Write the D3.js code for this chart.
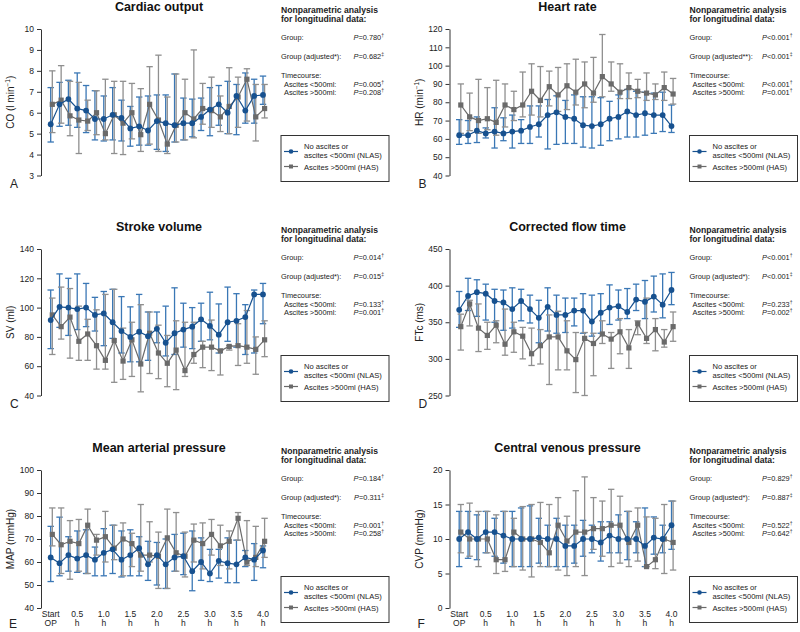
<!DOCTYPE html>
<html><head><meta charset="utf-8">
<script src="https://cdn.jsdelivr.net/npm/d3@7"></script>
<style>
body{margin:0;background:#fff}
svg{display:block}
text{font-family:"Liberation Sans",Arial,Helvetica,sans-serif;fill:#222}
</style>
</head><body>
<svg id="chart" width="800" height="632"></svg>
<script>
// ---------- categories ----------
const minutes = [0,10,20,30,40,50,60,70,80,90,100,110,120,130,140,150,160,170,180,190,200,210,220,230,240];
const tickMinutes = [0,30,60,90,120,150,180,210,240];
const tickLine1 = ["Start","0.5","1.0","1.5","2.0","2.5","3.0","3.5","4.0"];
const tickLine2 = ["OP","h","h","h","h","h","h","h","h"];
const seriesNames = ["No ascites or", "ascites <500ml (NLAS)", "Ascites >500ml (HAS)"];

// ---------- A: Cardiac output ----------
const coNlasMean = [5.45,6.4,6.65,6.2,6.1,5.7,5.7,5.9,5.75,5.25,5.35,5.15,5.6,5.5,5.4,5.5,5.5,5.8,6.15,6.4,6.0,6.8,6.1,6.8,6.85];
const coNlasLo   = [4.6,5.35,5.4,5.3,5.05,4.7,4.65,4.7,4.65,4.4,4.45,4.45,4.25,4.15,4.6,4.7,4.85,5.15,4.9,5.4,5.0,4.95,5.5,5.5,6.4];
const coNlasHi   = [7.2,7.45,7.55,7.9,7.3,7.05,6.8,7.2,6.6,6.3,6.75,6.8,6.85,6.85,7.85,6.7,6.65,6.7,7.2,7.3,7.5,7.35,7.9,7.6,7.75];
const coHasMean  = [6.4,6.6,5.85,5.65,5.6,6.0,5.0,5.9,5.5,6.0,4.95,6.4,5.65,4.5,5.4,6.0,5.7,6.2,6.1,5.8,6.3,6.75,7.6,5.8,6.2];
const coHasLo    = [5.05,5.5,4.9,4.05,5.15,4.95,4.7,4.05,4.0,4.75,4.15,4.5,4.15,4.05,4.6,4.7,4.8,5.45,5.3,5.1,5.0,5.3,5.6,4.65,5.75];
const coHasHi    = [8.0,8.25,7.5,7.45,6.6,7.05,7.6,7.5,7.5,7.4,7.15,8.2,8.75,6.75,7.85,7.6,9.0,7.4,7.7,6.8,8.15,7.7,8.1,7.35,7.35];

// ---------- B: Heart rate ----------
const hrNlasMean = [62,62,64.5,63,64,63,64,64.5,66.5,68,73,74.5,72,71,67.5,67,68,71,72,75,73,74,73,73,67];
const hrNlasLo   = [57,57.5,58,60.5,55,59,55,57.5,57.5,61,54.5,57,57.5,57.5,55.5,55,56.5,59,60,61,61,62,63,64,63.5];
const hrNlasHi   = [70.5,70,72,66,77,71.5,73,70.5,78,78,81.5,83.5,81,84,83,83,82.5,80.5,84,87,86,85.5,85,85.5,78.5];
const hrHasMean  = [78.5,72,70,71,69,78.5,76,78.5,86,81,88.5,84,89,85.5,90,85,94,90,85.5,88,86,85,84,88,84.5];
const hrHasLo    = [63,64.5,63,65,62,66.5,70,72,73,72,78,75,76,78.5,77,80,83,86,82,82,82.5,81,81.5,81,79];
const hrHasHi    = [90,85,92.5,88,92,90,86,96.5,101,99.5,97,99,101,103.5,102,104.5,117,102,101,96,92.5,96,90,96.5,93];

// ---------- C: Stroke volume ----------
const svNlasMean = [91.5,100.5,100,99,100,95,96,90,84,80,83.5,80.5,85.5,76,82.5,85,87,92,87.5,81.5,90,91,93.5,109,109];
const svNlasLo   = [72,86.5,81,85,87,84,74,79,69,63,63,64,76,67,68,73,72,77,78,69,77,73,68,69,89];
const svNlasHi   = [112,123,120,123,116.5,107,111,112.5,107.5,100.5,109,97,97,101,113.5,103,100,103,110.5,102.5,114,109.5,102,112,116.5];
const svHasMean  = [95,87,93.5,77,82,74,64,77.5,63.5,78,61.5,82.5,69,62,71,57,68,73,73,70.5,73.5,74,73,71.5,78];
const svHasLo    = [68,78.5,65.5,64,64,58,58,49,51,53,42.5,55,51.5,46,44,53,62,59,57,54,71,60.5,62,54.5,66.5];
const svHasHi    = [106.5,114,113,101,92,98.5,109,112.5,86,90,102,97,88,81,91,90,90,77,91.5,71,74,89,98,80,91];

// ---------- D: Corrected flow time ----------
const ftcNlasMean = [367,386,391,389,379,377,368,379,368,356,371,360,360,366,366,351,363,370,372,364,381,378,385,374,394];
const ftcNlasLo   = [343,366,358,353,350,339,342,352,349,322,338,335,336,345,335,331,335,347,353,355,366,355,364,356,374];
const ftcNlasHi   = [392,410,408,402,395,394,397,395,387,380,397,387,383,383,389,387,389,401,394,396,402,407,413,416,418];
const ftcHasMean  = [344,375,342,332,346,320,337,331,307,318,330,330,311,299,328,321,334,327,337,315,348,328,340,323,344];
const ftcHasLo    = [312,345,310,313,322,305,309,300,291,293,265,285,285,254,250,277,321,287,307,287,333,321,311,316,324];
const ftcHasHi    = [361,380,375,350,352,368,350,343,342,340,360,365,352,336,336,335,352,336,355,340,352,383,355,340,364];

// ---------- E: Mean arterial pressure ----------
const mapNlasMean = [62,59.5,63,61.5,63,61,64,65.5,61,63,66,59,63,59,62,62.5,56,60,55,60.5,59.5,59,62,61,65];
const mapNlasLo   = [51.5,54,56,55.5,55,54,54,55,53.5,54,54,52,50,48.5,56,54.5,47.5,52,51.5,53,51,51,58,52,57.5];
const mapNlasHi   = [75.5,79.5,71,73.5,74,66.5,74.5,76,73.5,74,71,69,68.5,70,72,72.5,73.5,70.5,65.5,65.5,70.5,69.5,65,68,67];
const mapHasMean  = [72,67.5,69,68,76,69.5,71,66,70,68,63,63,62.5,70.5,64,62.5,69.5,68,72,67,69,79,60,62,69];
const mapHasLo    = [67,55,52.5,56,55,63,60,61,54,58,56,60,48.5,48.5,56,53.5,60,57,63,58.5,57,69.5,58.5,58,62];
const mapHasHi    = [83.5,83.5,78,78.5,83,72,82,76,77,72.5,85,77.5,73,83,81.5,73,76.5,77,78.5,76,73.5,81.5,78,75.5,79];

// ---------- F: Central venous pressure ----------
const cvpNlasMean = [10,11,10,11,11,10.5,10,10,10,10.2,10,10,9,9,10,10,9.5,10.5,10,10,10,9,10.2,10,12];
const cvpNlasLo   = [6,7.2,7,8,7.5,6.5,6,6,6,6.5,6,6,6,6.5,7.5,8,6.8,8,8,7,8,6,7.8,8,8.5];
const cvpNlasHi   = [14,14,13.5,14,13,14,14,14.5,14.8,13,12,13,12,12,12.7,12,12.5,12.5,13.5,14,12.5,14.5,13.2,12,15.5];
const cvpHasMean  = [11,10,10,10,7,7,11,10,10,9.5,8,12,9.7,11,11,11.5,11.5,12,12,9.5,12,6,7,10,9.5];
const cvpHasLo    = [8,7.5,6,8,5,5.3,6,5.5,4.5,6,6,5.5,4.7,6,4.7,8.5,7.5,6,6.5,6,6.8,6,5.7,5,5.5];
const cvpHasHi    = [15,15.2,14,14,13.5,14,13,14.7,15,15.3,15,16,13.3,17,19,16,15.5,17.2,16.2,14,14.5,13.2,13,15,15.5];

// ---------- statistics text ----------
const coStats  = [["=0.780","†"],["=0.682","‡"],["=0.005","†"],["=0.208","†"]];
const hrStats  = [["<0.001","†"],["<0.001","‡"],["<0.001","†"],["=0.001","†"]];
const svStats  = [["=0.014","†"],["=0.015","‡"],["=0.133","†"],["=0.001","†"]];
const ftcStats = [["<0.001","†"],["<0.001","‡"],["=0.233","†"],["=0.002","†"]];
const mapStats = [["=0.184","†"],["=0.311","‡"],["=0.001","†"],["=0.258","†"]];
const cvpStats = [["=0.829","†"],["=0.887","‡"],["=0.522","†"],["=0.642","†"]];

const panels = [
  {letter:"A", title:"Cardiac output", ylab:["CO (l min","−1",")"], domain:[3,10], ticks:[3,4,5,6,7,8,9,10],
   nlas:[coNlasMean,coNlasLo,coNlasHi], has:[coHasMean,coHasLo,coHasHi], stats:coStats, adj:"Group (adjusted*):", col:0,row:0},
  {letter:"B", title:"Heart rate", ylab:["HR (min","−1",")"], domain:[40,120], ticks:[40,50,60,70,80,90,100,110,120],
   nlas:[hrNlasMean,hrNlasLo,hrNlasHi], has:[hrHasMean,hrHasLo,hrHasHi], stats:hrStats, adj:"Group (adjusted**):", col:1,row:0},
  {letter:"C", title:"Stroke volume", ylab:["SV (ml)"], domain:[40,140], ticks:[40,60,80,100,120,140],
   nlas:[svNlasMean,svNlasLo,svNlasHi], has:[svHasMean,svHasLo,svHasHi], stats:svStats, adj:"Group (adjusted*):", col:0,row:1},
  {letter:"D", title:"Corrected flow time", ylab:["FTc (ms)"], domain:[250,450], ticks:[250,300,350,400,450],
   nlas:[ftcNlasMean,ftcNlasLo,ftcNlasHi], has:[ftcHasMean,ftcHasLo,ftcHasHi], stats:ftcStats, adj:"Group (adjusted*):", col:1,row:1},
  {letter:"E", title:"Mean arterial pressure", ylab:["MAP (mmHg)"], domain:[40,100], ticks:[40,50,60,70,80,90,100],
   nlas:[mapNlasMean,mapNlasLo,mapNlasHi], has:[mapHasMean,mapHasLo,mapHasHi], stats:mapStats, adj:"Group (adjusted*):", col:0,row:2},
  {letter:"F", title:"Central venous pressure", ylab:["CVP (mmHg)"], domain:[0,20], ticks:[0,5,10,15,20],
   nlas:[cvpNlasMean,cvpNlasLo,cvpNlasHi], has:[cvpHasMean,cvpHasLo,cvpHasHi], stats:cvpStats, adj:"Group (adjusted*):", col:1,row:2}
];

const BLUE = "#17518f", BLUE_EB = "#3a77b5", GRAY = "#6a6a6a", GRAY_EB = "#8f8f8f", AXIS = "#333";
const svg = d3.select("#chart");
const colX = [0, 408.5], rowY = [0, 220, 441];

panels.forEach(p => {
  const ox = colX[p.col], oy = rowY[p.row];
  const bottomRow = p.row === 2;
  const top = 29, bot = bottomRow ? 167 : 175.5;
  const g = svg.append("g").attr("transform", `translate(${ox},${oy})`);
  const x = d3.scalePoint().domain(minutes).range([50.7, 263]);
  const y = d3.scaleLinear().domain(p.domain).range([bot, top]);

  // title
  g.append("text").attr("x", 159).attr("y", 11).attr("text-anchor","middle")
    .style("font-weight","bold").style("font-size","12.5px").style("fill","#111").text(p.title);

  // y axis
  const ax = g.append("g").attr("transform","translate(41,0)")
    .call(d3.axisLeft(y).tickValues(p.ticks).tickFormat(d3.format("d")).tickSize(4).tickSizeOuter(0).tickPadding(3));
  ax.select(".domain").attr("stroke", AXIS);
  ax.selectAll(".tick line").attr("stroke", AXIS);
  ax.selectAll(".tick text").style("font-size","8.5px").style("font-family","Liberation Sans, Arial, sans-serif").attr("fill","#333");

  // y label
  const yl = g.append("text").attr("transform", `translate(14,${(top+bot)/2}) rotate(-90)`)
    .attr("text-anchor","middle").style("font-size","10px");
  yl.append("tspan").text(p.ylab[0]);
  if (p.ylab.length > 1) {
    yl.append("tspan").attr("dy",-4).style("font-size","6.5px").text(p.ylab[1]);
    yl.append("tspan").attr("dy",4).text(p.ylab[2]);
  }

  // panel letter
  g.append("text").attr("x", bottomRow ? 9 : 10).attr("y", bottomRow ? 187 : 188)
    .style("font-size","12px").text(p.letter);

  // x tick labels bottom row
  if (bottomRow) {
    tickMinutes.forEach((m,i) => {
      g.append("text").attr("x", x(m)).attr("y", 176).attr("text-anchor","middle").style("font-size","8.5px").text(tickLine1[i]);
      g.append("text").attr("x", x(m)).attr("y", 185).attr("text-anchor","middle").style("font-size","8.5px").text(tickLine2[i]);
    });
  }

  // series
  const mk = (arr, off) => minutes.map((m,i) => ({x: x(m)+off, m: arr[0][i], lo: arr[1][i], hi: arr[2][i]}));
  const nl = mk(p.nlas, 0), hs = mk(p.has, 1.6);
  const drawBars = (data, col) => {
    const eb = g.append("g").attr("stroke", col).attr("stroke-width", 1.3).attr("fill","none");
    data.forEach(d => {
      eb.append("line").attr("x1",d.x).attr("x2",d.x).attr("y1",y(d.lo)).attr("y2",y(d.hi));
      eb.append("line").attr("x1",d.x-3.2).attr("x2",d.x+3.2).attr("y1",y(d.lo)).attr("y2",y(d.lo));
      eb.append("line").attr("x1",d.x-3.2).attr("x2",d.x+3.2).attr("y1",y(d.hi)).attr("y2",y(d.hi));
    });
  };
  drawBars(nl, BLUE_EB);
  drawBars(hs, GRAY_EB);
  const line = d3.line().x(d=>d.x).y(d=>y(d.m));
  g.append("path").datum(hs).attr("d", line).attr("fill","none").attr("stroke",GRAY).attr("stroke-width",1.2);
  g.selectAll(null).data(hs).enter().append("rect")
    .attr("x", d=>d.x-2.6).attr("y", d=>y(d.m)-2.6).attr("width",5.2).attr("height",5.2).attr("fill",GRAY);
  g.append("path").datum(nl).attr("d", line).attr("fill","none").attr("stroke",BLUE).attr("stroke-width",1.2);
  g.selectAll(null).data(nl).enter().append("circle")
    .attr("cx", d=>d.x).attr("cy", d=>y(d.m)).attr("r",2.9).attr("fill",BLUE);

  // statistics text
  const tx = 281, tr = 384, fs = "7.4px";
  g.append("text").attr("x",tx).attr("y",12.5).style("font-weight","bold").style("font-size","8.6px").text("Nonparametric analysis");
  g.append("text").attr("x",tx).attr("y",22).style("font-weight","bold").style("font-size","8.6px").text("for longitudinal data:");
  const rows = [["Group:", 40, 0],[p.adj, 59, 1],["Timecourse:",78,null],["  Ascites <500ml:",86.5,2],["  Ascites >500ml:",94.5,3]];
  rows.forEach(([lab, yy, si]) => {
    g.append("text").attr("x", lab.startsWith("  ") ? tx+3 : tx).attr("y",yy).style("font-size",fs).attr("fill","#333").text(lab.trim());
    if (si !== null) {
      const t = g.append("text").attr("x",tr).attr("y",yy).attr("text-anchor","end").style("font-size",fs);
      t.append("tspan").style("font-style","italic").text("P");
      t.append("tspan").text(p.stats[si][0]);
      t.append("tspan").attr("dy",-3).style("font-size","5px").text(p.stats[si][1]);
    }
  });

  // legend
  const lg = g.append("g");
  lg.append("rect").attr("x",281).attr("y",135.5).attr("width",108).attr("height",46)
    .attr("fill","none").attr("stroke","#333").attr("stroke-width",1);
  lg.append("line").attr("x1",284).attr("x2",298).attr("y1",151.5).attr("y2",151.5).attr("stroke",BLUE).attr("stroke-width",1.2);
  lg.append("circle").attr("cx",291).attr("cy",151.5).attr("r",2.3).attr("fill",BLUE);
  lg.append("line").attr("x1",284).attr("x2",298).attr("y1",166.5).attr("y2",166.5).attr("stroke",GRAY).attr("stroke-width",1.2);
  lg.append("rect").attr("x",289).attr("y",164.5).attr("width",4).attr("height",4).attr("fill",GRAY);
  lg.append("text").attr("x",304).attr("y",149).style("font-size","7.6px").text(seriesNames[0]);
  lg.append("text").attr("x",304).attr("y",158).style("font-size","7.6px").text(seriesNames[1]);
  lg.append("text").attr("x",304).attr("y",169.5).style("font-size","7.6px").text(seriesNames[2]);
});
</script>
</body></html>
